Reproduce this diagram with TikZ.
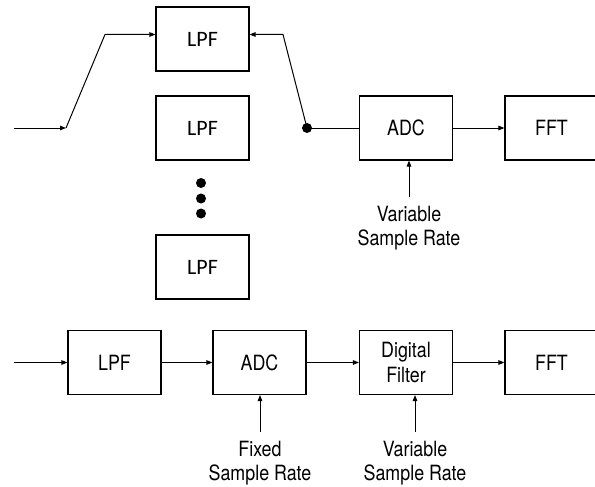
\documentclass[tikz,border=0pt]{standalone}
\usepackage{fontspec}
\newfontfamily\condfont[FakeStretch=0.85]{TeX Gyre Heros}
\newfontfamily\calfont{Carlito}
\usetikzlibrary{arrows.meta}
\begin{document}
\begin{tikzpicture}[x=1pt,y=-1pt,
  blk/.style={draw,line width=1.1pt,minimum width=93pt,minimum height=64pt,inner sep=0pt,
    font=\condfont\fontsize{21}{25}\selectfont,align=center},
  cblk/.style={blk,font=\calfont\fontsize{22}{25}\selectfont},
  lbl/.style={inner sep=0pt,align=center,font=\condfont\fontsize{21}{24}\selectfont},
  arr/.style={line width=1pt,-{Triangle[length=6pt,width=4.5pt]}},
  ln/.style={line width=1pt},
  dotc/.style={circle,fill=black,inner sep=0pt,minimum size=10pt}]
\useasboundingbox (0,0) rectangle (595,487);
\clip (0,0) rectangle (595,487);
% top part
\node[cblk] (lpfA) at (202.5,39) {LPF};
\node[cblk] (lpfB) at (202.5,128) {LPF};
\node[cblk] (lpfC) at (202.5,267) {LPF};
\node[dotc] (d1) at (201,183) {};
\node[dotc] (d2) at (201,198.5) {};
\node[dotc] (d3) at (201,213.5) {};
\node[blk] (adcT) at (406,128) {ADC};
\node[blk] (fftT) at (551.5,128) {FFT};
\node[dotc] (jn) at (307,128) {};
\coordinate (inT) at (14,128);
\coordinate (b1) at (66,128);
\coordinate (b2) at (105,34.5);
\coordinate (c2) at (283,34.5);
\draw[arr] (inT) -- (b1);
\draw[arr] (b1) -- (b2) -- (b2 -| lpfA.west);
\draw[arr] (jn.center) -- (c2) -- (c2 -| lpfA.east);
\draw[ln] (jn.center) -- (adcT.west);
\draw[arr] (adcT) -- (fftT);
\node[lbl,anchor=north] (srT) at (409,206) {Variable\\Sample Rate};
\draw[arr] ([yshift=9pt]srT.north) -- (srT.north |- adcT.south);
% bottom part
\node[blk] (lpfL) at (114.5,362.5) {LPF};
\node[blk] (adcB) at (259.5,362.5) {ADC};
\node[blk] (dfB) at (406,362.5) {Digital\\Filter};
\node[blk] (fftB) at (551.5,362.5) {FFT};
\coordinate (inB) at (14,362.5);
\draw[arr] (inB) -- (lpfL);
\draw[arr] (lpfL) -- (adcB);
\draw[arr] (adcB) -- (dfB);
\draw[arr] (dfB) -- (fftB);
\node[lbl,anchor=north] (srF) at (260,441) {Fixed\\Sample Rate};
\node[lbl,anchor=north] (srV) at (415,441) {Variable\\Sample Rate};
\draw[arr] ([yshift=9pt]srF.north) -- (srF.north |- adcB.south);
\draw[arr] ([yshift=9pt]srV.north) -- (srV.north |- dfB.south);
\end{tikzpicture}
\end{document}
